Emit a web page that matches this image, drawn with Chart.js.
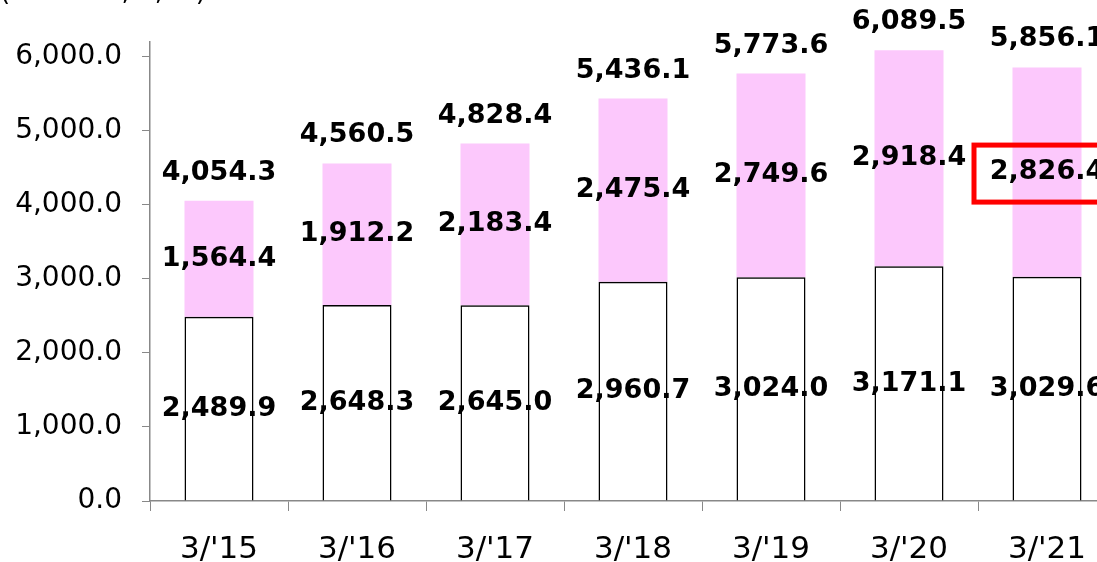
<!DOCTYPE html>
<html>
<head>
<meta charset="utf-8">
<script src="https://cdn.jsdelivr.net/npm/chart.js@4/dist/chart.umd.min.js"></script>
<style>
  html, body { margin: 0; padding: 0; background: #fff; overflow: hidden; }
  #wrap { position: absolute; left: 0; top: 0; width: 1120px; height: 562px; }
  #unit { position: absolute; left: 0; top: -24px; font: 26px "DejaVu Sans", Verdana, sans-serif; color: #000; white-space: nowrap; }
</style>
</head>
<body>
<div id="wrap"><canvas id="chart" width="1120" height="562"></canvas></div>
<div id="unit">(¥ million, ¥, %)</div>
<script>
var categories = ["3/'15", "3/'16", "3/'17", "3/'18", "3/'19", "3/'20", "3/'21"];
var baseValues = [2489.9, 2648.3, 2645.0, 2960.7, 3024.0, 3171.1, 3029.6];
var upperValues = [1564.4, 1912.2, 2183.4, 2475.4, 2749.6, 2918.4, 2826.4];
var totalValues = [4054.3, 4560.5, 4828.4, 5436.1, 5773.6, 6089.5, 5856.1];
var yTicks = [0, 1000, 2000, 3000, 4000, 5000, 6000];
var highlightIndex = 6;

function fmt(v) {
    return v.toLocaleString('en-US', {minimumFractionDigits: 1, maximumFractionDigits: 1});
}

var labelFont = 'bold 27px "DejaVu Sans", Verdana, sans-serif';

// labels of the lower (white) bars go under the bar outlines
var baseLabels = {
    id: 'baseLabels',
    beforeDatasetsDraw: function(chart) {
        var ctx = chart.ctx, y = chart.scales.y, x = chart.scales.x;
        ctx.save();
        ctx.font = labelFont;
        ctx.fillStyle = '#000';
        ctx.textAlign = 'center';
        ctx.textBaseline = 'middle';
        baseValues.forEach(function(v, i) {
            ctx.fillText(fmt(v), x.getPixelForValue(i), y.getPixelForValue(v / 2));
        });
        ctx.restore();
    }
};

var barLabels = {
    id: 'barLabels',
    afterDatasetsDraw: function(chart) {
        var ctx = chart.ctx, y = chart.scales.y, x = chart.scales.x;
        ctx.save();
        ctx.font = labelFont;
        ctx.fillStyle = '#000';
        ctx.textAlign = 'center';
        ctx.textBaseline = 'middle';
        categories.forEach(function(c, i) {
            var cx = x.getPixelForValue(i);
            ctx.fillText(fmt(upperValues[i]), cx, y.getPixelForValue(baseValues[i] + upperValues[i] / 2));
            ctx.fillText(fmt(totalValues[i]), cx, y.getPixelForValue(totalValues[i]) - 28);
        });
        // red highlight box
        var hx = x.getPixelForValue(highlightIndex);
        var hy = y.getPixelForValue(baseValues[highlightIndex] + upperValues[highlightIndex] / 2);
        ctx.strokeStyle = '#ff0000';
        ctx.lineWidth = 5;
        ctx.strokeRect(hx - 73, hy - 27, 150, 57);
        ctx.restore();
    }
};

new Chart(document.getElementById('chart').getContext('2d'), {
    type: 'bar',
    data: {
        labels: categories,
        datasets: [{
            data: baseValues,
            backgroundColor: 'rgba(255,255,255,0)',
            borderColor: '#000000',
            borderWidth: 1.5,
            categoryPercentage: 1.0,
            barPercentage: 0.5
        }, {
            data: upperValues,
            backgroundColor: '#fcc8fc',
            borderWidth: 0,
            categoryPercentage: 1.0,
            barPercentage: 0.5
        }]
    },
    options: {
        responsive: false,
        animation: false,
        layout: { padding: { top: 42, right: 4, left: 0, bottom: 0 } },
        plugins: { legend: { display: false }, tooltip: { enabled: false } },
        scales: {
            x: {
                stacked: true,
                afterFit: function(s) { s.height = 61; },
                grid: { display: true, offset: true, drawOnChartArea: false, tickLength: 10, color: '#888' },
                border: { color: '#888', width: 1.5 },
                ticks: { color: '#000', font: { family: '"DejaVu Sans", Verdana, sans-serif', size: 31 }, padding: 20, maxRotation: 0 }
            },
            y: {
                stacked: true,
                min: 0,
                max: 6200,
                afterFit: function(s) { s.width = 150; },
                afterBuildTicks: function(s) {
                    s.ticks = yTicks.map(function(v) { return { value: v }; });
                },
                grid: { drawOnChartArea: false, tickLength: 8, color: '#888' },
                border: { color: '#888', width: 1.5 },
                ticks: {
                    color: '#000',
                    padding: 20,
                    font: { family: '"DejaVu Sans", Verdana, sans-serif', size: 28 },
                    callback: function(v) { return fmt(v); }
                }
            }
        }
    },
    plugins: [baseLabels, barLabels]
});
</script>
</body>
</html>
